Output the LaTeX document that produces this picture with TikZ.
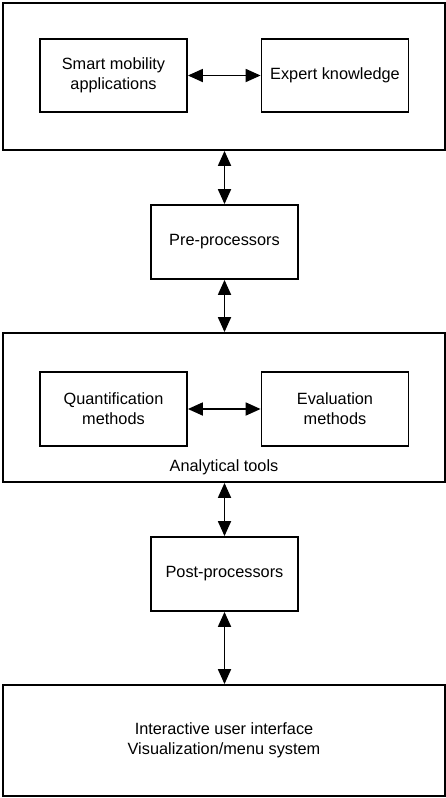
\documentclass[tikz,border=0pt]{standalone}
\usepackage{fontspec}
\setmainfont{Liberation Sans}
\usetikzlibrary{arrows.meta}
\begin{document}
\begin{tikzpicture}[x=1pt,y=-1pt,
  box/.style={draw, line width=1.8pt, rectangle, align=center, inner sep=0pt,
    font=\fontsize{16.3}{20}\selectfont},
  outer/.style={box, minimum width=442pt},
  inner/.style={box, minimum width=147pt, minimum height=73pt},
  link/.style={line width=1.8pt, {Triangle[length=15pt,width=13pt]}-{Triangle[length=15pt,width=13pt]}}
]
\useasboundingbox (0,0) rectangle (446,798);
\fill[white] (0,0) rectangle (446,798);
% top block
\node[outer, minimum height=147pt] (top) at (224,76.5) {};
\node[inner] (smart) at (113.5,75.5) {Smart mobility\\applications};
\node[inner] (expert) at (335,75.5) {Expert knowledge};
% pre-processors
\node[inner, minimum height=74pt] (pre) at (224.5,242) {Pre-processors};
% analytical block
\node[outer, minimum height=149pt] (ana) at (224,407.5) {};
\node[inner, minimum height=74pt] (quant) at (113.5,409) {Quantification\\methods};
\node[inner, minimum height=74pt] (eval) at (335,409) {Evaluation\\methods};
\node[font=\fontsize{16.3}{20}\selectfont, inner sep=0pt] (analabel) at (224,467) {Analytical tools};
% post-processors
\node[inner, minimum height=74pt] (post) at (224.5,574) {Post-processors};
% bottom block
\node[outer, minimum height=111pt] (ui) at (224,740.5) {Interactive user interface\\Visualization/menu system};
% connectors
\draw[link] (smart.east) -- (expert.west);
\draw[link] (quant.east) -- (eval.west);
\draw[link] (top.south -| pre.north) -- (pre.north);
\draw[link] (pre.south) -- (pre.south |- ana.north);
\draw[link] (ana.south -| post.north) -- (post.north);
\draw[link] (post.south) -- (post.south |- ui.north);
\end{tikzpicture}
\end{document}
